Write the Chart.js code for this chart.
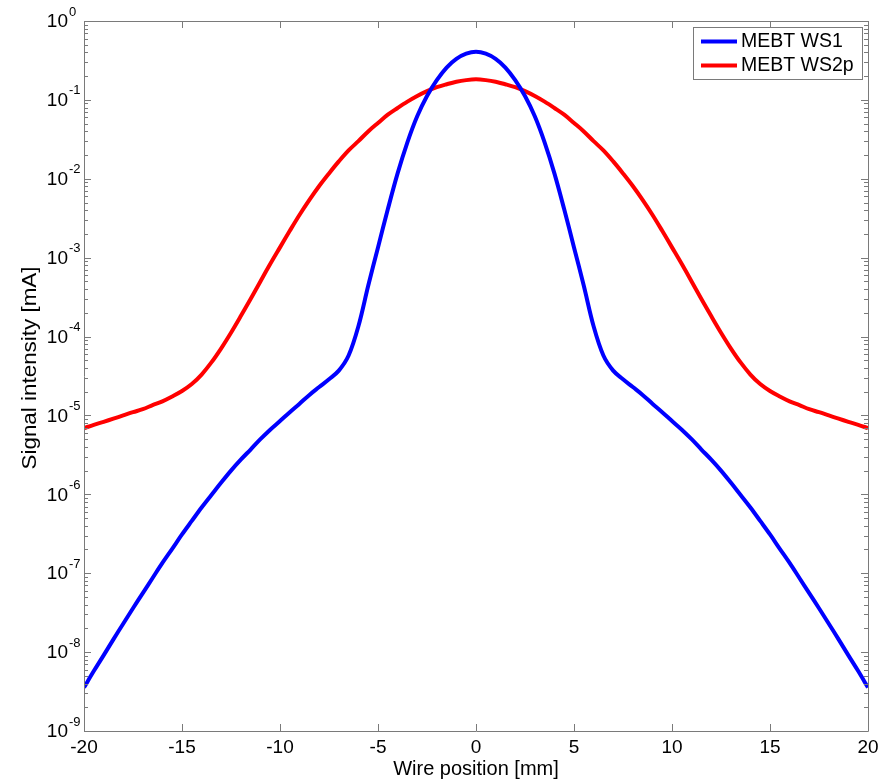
<!DOCTYPE html>
<html>
<head>
<meta charset="utf-8">
<script src="https://cdn.jsdelivr.net/npm/chart.js@4/dist/chart.umd.min.js"></script>
<style>
  html, body { margin: 0; padding: 0; background: #fff; }
  #wrap { width: 893px; height: 781px; }
</style>
</head>
<body>
<div id="wrap"><canvas id="wsChart" width="893" height="781"></canvas></div>
<script>
// wire position [mm], 0.5 mm steps
const positions = [-20, -19.5, -19, -18.5, -18, -17.5, -17, -16.5, -16, -15.5, -15, -14.5, -14, -13.5, -13, -12.5, -12, -11.5, -11, -10.5,
  -10, -9.5, -9, -8.5, -8, -7.5, -7, -6.5, -6, -5.5, -5, -4.5, -4, -3.5, -3, -2.5, -2, -1.5, -1, -0.5, 0,
  0.5, 1, 1.5, 2, 2.5, 3, 3.5, 4, 4.5, 5, 5.5, 6, 6.5, 7, 7.5, 8, 8.5, 9, 9.5, 10,
  10.5, 11, 11.5, 12, 12.5, 13, 13.5, 14, 14.5, 15, 15.5, 16, 16.5, 17, 17.5, 18, 18.5, 19, 19.5, 20];

// signal [mA]
const ws1 = [3.55e-9, 5.75e-9, 9.1e-9, 1.45e-8, 2.29e-8, 3.6e-8, 5.6e-8, 8.7e-8, 1.35e-7, 2.04e-7, 3.1e-7, 4.6e-7, 6.8e-7, 9.8e-7, 1.41e-6, 2.0e-6, 2.75e-6, 3.7e-6, 5.0e-6, 6.6e-6,
  8.5e-6, 1.1e-5, 1.41e-5, 1.82e-5, 2.29e-5, 2.88e-5, 3.7e-5, 5.75e-5, 1.35e-4, 4.4e-4, 1.35e-3, 4.1e-3, 1.17e-2, 2.9e-2, 6.2e-2, 0.112, 0.178, 0.257, 0.331, 0.385, 0.407,
  0.385, 0.331, 0.257, 0.178, 0.112, 6.2e-2, 2.9e-2, 1.17e-2, 4.1e-3, 1.35e-3, 4.4e-4, 1.35e-4, 5.75e-5, 3.7e-5, 2.88e-5, 2.29e-5, 1.82e-5, 1.41e-5, 1.1e-5, 8.5e-6,
  6.6e-6, 5.0e-6, 3.7e-6, 2.75e-6, 2.0e-6, 1.41e-6, 9.8e-7, 6.8e-7, 4.6e-7, 3.1e-7, 2.04e-7, 1.35e-7, 8.7e-8, 5.6e-8, 3.6e-8, 2.29e-8, 1.45e-8, 9.1e-9, 5.75e-9, 3.55e-9];

const ws2p = [6.9e-6, 7.6e-6, 8.3e-6, 9.1e-6, 1.0e-5, 1.1e-5, 1.2e-5, 1.35e-5, 1.51e-5, 1.74e-5, 2.04e-5, 2.5e-5, 3.3e-5, 4.7e-5, 7.1e-5, 1.12e-4, 1.82e-4, 3.0e-4, 5.0e-4, 8.3e-4,
  1.35e-3, 2.19e-3, 3.5e-3, 5.4e-3, 8.1e-3, 1.17e-2, 1.66e-2, 2.29e-2, 3.0e-2, 3.98e-2, 5.1e-2, 6.5e-2, 7.9e-2, 9.5e-2, 0.112, 0.129, 0.145, 0.158, 0.170, 0.178, 0.182,
  0.178, 0.170, 0.158, 0.145, 0.129, 0.112, 9.5e-2, 7.9e-2, 6.5e-2, 5.1e-2, 3.98e-2, 3.0e-2, 2.29e-2, 1.66e-2, 1.17e-2, 8.1e-3, 5.4e-3, 3.5e-3, 2.19e-3, 1.35e-3,
  8.3e-4, 5.0e-4, 3.0e-4, 1.82e-4, 1.12e-4, 7.1e-5, 4.7e-5, 3.3e-5, 2.5e-5, 2.04e-5, 1.74e-5, 1.51e-5, 1.35e-5, 1.2e-5, 1.1e-5, 1.0e-5, 9.1e-6, 8.3e-6, 7.6e-6, 6.9e-6];

const seriesNames = ["MEBT WS1", "MEBT WS2p"];
const xTicks = [-20, -15, -10, -5, 0, 5, 10, 15, 20];
const yExponents = [0, -1, -2, -3, -4, -5, -6, -7, -8, -9];

const FONT = "Arial, 'Liberation Sans', sans-serif";
const AXIS = "#7a7a7a";

function pts(ys) {
  return positions.map((x, i) => ({ x: x, y: ys[i] }));
}

// MATLAB-like box, inward ticks, 10^n labels, titles and legend
const matlabAxes = {
  id: "matlabAxes",
  afterDraw(chart) {
    const ctx = chart.ctx;
    const a = chart.chartArea;
    const xs = chart.scales.x, ys = chart.scales.y;
    ctx.save();
    ctx.strokeStyle = AXIS;
    ctx.lineWidth = 1;
    ctx.beginPath();
    ctx.rect(Math.round(a.left) + 0.5, Math.round(a.top) + 0.5, Math.round(a.right - a.left), Math.round(a.bottom - a.top));
    ctx.stroke();

    ctx.beginPath();
    xTicks.forEach(v => {
      const px = Math.round(xs.getPixelForValue(v)) + 0.5;
      ctx.moveTo(px, a.bottom); ctx.lineTo(px, a.bottom - 7);
      ctx.moveTo(px, a.top); ctx.lineTo(px, a.top + 7);
    });
    yExponents.forEach(e => {
      const d = Math.pow(10, e);
      const py = Math.round(ys.getPixelForValue(d)) + 0.5;
      ctx.moveTo(a.left, py); ctx.lineTo(a.left + 7, py);
      ctx.moveTo(a.right, py); ctx.lineTo(a.right - 7, py);
      if (e > -9) {
        for (let k = 2; k <= 9; k++) {
          const my = Math.round(ys.getPixelForValue(d / 10 * k)) + 0.5;
          ctx.moveTo(a.left, my); ctx.lineTo(a.left + 4, my);
          ctx.moveTo(a.right, my); ctx.lineTo(a.right - 4, my);
        }
      }
    });
    ctx.stroke();

    // y tick labels 10^n
    ctx.fillStyle = "#000";
    ctx.textBaseline = "middle";
    yExponents.forEach(e => {
      const py = ys.getPixelForValue(Math.pow(10, e));
      ctx.font = "19px " + FONT;
      ctx.textAlign = "right";
      ctx.fillText("10", 68, py + 1);
      ctx.font = "13px " + FONT;
      ctx.textAlign = "left";
      ctx.fillText(e < 0 ? "-" + (-e) : String(e), 69, py - 9);
    });

    // axis titles
    ctx.font = "20px " + FONT;
    ctx.textAlign = "center";
    ctx.fillText("Wire position [mm]", (a.left + a.right) / 2, 769);
    ctx.save();
    ctx.translate(30, 368);
    ctx.rotate(-Math.PI / 2);
    ctx.scale(1.12, 1);
    ctx.fillText("Signal intensity [mA]", 0, 0);
    ctx.restore();

    // legend
    ctx.fillStyle = "#fff";
    ctx.fillRect(693, 27, 169, 52);
    ctx.strokeStyle = AXIS;
    ctx.strokeRect(693.5, 27.5, 169, 52);
    chart.data.datasets.forEach((ds, i) => {
      const cy = 41.5 + i * 24;
      ctx.strokeStyle = ds.borderColor;
      ctx.lineWidth = 4;
      ctx.beginPath();
      ctx.moveTo(701, cy); ctx.lineTo(737, cy);
      ctx.stroke();
      ctx.fillStyle = "#000";
      ctx.font = "19.5px " + FONT;
      ctx.textAlign = "left";
      ctx.fillText(ds.label, 741, cy);
    });
    ctx.restore();
  }
};

const ctx = document.getElementById("wsChart").getContext("2d");
new Chart(ctx, {
  type: "line",
  data: {
    datasets: [
      { label: seriesNames[0], data: pts(ws1), borderColor: "#0000ff", borderWidth: 4, pointRadius: 0, tension: 0.35, fill: false },
      { label: seriesNames[1], data: pts(ws2p), borderColor: "#ff0000", borderWidth: 4, pointRadius: 0, tension: 0.35, fill: false }
    ]
  },
  options: {
    responsive: false,
    animation: false,
    events: [],
    layout: { padding: { top: 21, right: 25, left: 0, bottom: 0 } },
    plugins: {
      legend: { display: false },
      tooltip: { enabled: false }
    },
    scales: {
      x: {
        type: "linear",
        min: -20,
        max: 20,
        afterBuildTicks: s => { s.ticks = xTicks.map(v => ({ value: v })); },
        afterFit: s => { s.height = 50; },
        grid: { display: false, drawTicks: false },
        border: { display: false },
        ticks: { color: "#000", font: { size: 19, family: FONT }, padding: 5, maxRotation: 0 }
      },
      y: {
        type: "logarithmic",
        min: 1e-9,
        max: 1,
        afterFit: s => { s.width = 84; },
        grid: { display: false, drawTicks: false },
        border: { display: false },
        ticks: { display: false }
      }
    }
  },
  plugins: [matlabAxes]
});
</script>
</body>
</html>
